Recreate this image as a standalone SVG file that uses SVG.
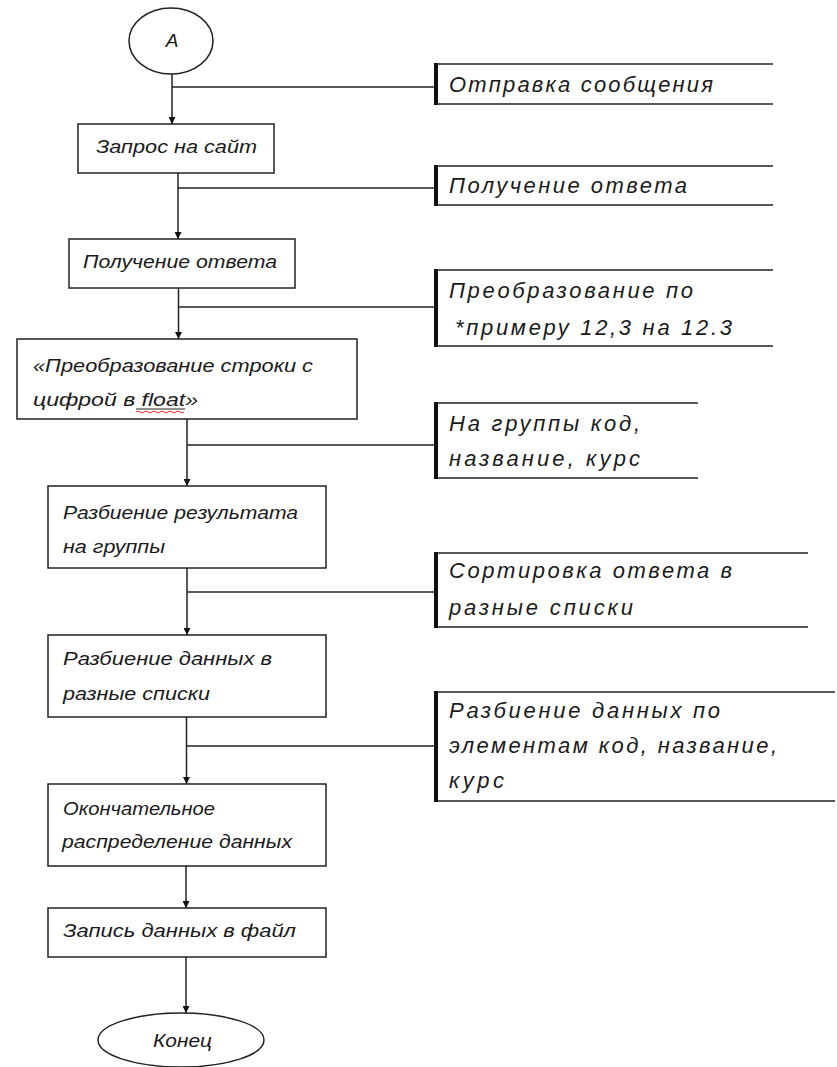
<svg xmlns="http://www.w3.org/2000/svg" width="837" height="1067" viewBox="0 0 837 1067">
<defs>
<style>
.shape{fill:#fff;stroke:#222;stroke-width:1.5}
.ln{fill:none;stroke:#222;stroke-width:1.5}
.bar{fill:none;stroke:#111;stroke-width:4}
.t{font-family:"Liberation Sans","DejaVu Sans",sans-serif;font-style:italic;fill:#1a1a1a;font-size:19px}
.a{font-family:"Liberation Sans","DejaVu Sans",sans-serif;font-style:italic;fill:#1a1a1a;font-size:22px}
</style>
<marker id="arr" viewBox="0 0 10 10" refX="10" refY="5" markerWidth="10" markerHeight="7" markerUnits="userSpaceOnUse" orient="auto">
<path d="M0,0 L10,5 L0,10 Z" fill="#111"/>
</marker>
</defs>
<rect width="837" height="1067" fill="#fff"/>

<g id="connectors">
<line class="ln" x1="172" y1="74" x2="172" y2="124" marker-end="url(#arr)"/>
<line class="ln" x1="172" y1="87" x2="436" y2="87"/>
<line class="ln" x1="178" y1="173" x2="178" y2="239" marker-end="url(#arr)"/>
<line class="ln" x1="178" y1="188" x2="436" y2="188"/>
<line class="ln" x1="178.5" y1="288" x2="178.5" y2="339" marker-end="url(#arr)"/>
<line class="ln" x1="178.5" y1="307" x2="436" y2="307"/>
<line class="ln" x1="187" y1="419" x2="187" y2="486" marker-end="url(#arr)"/>
<line class="ln" x1="187" y1="445" x2="436" y2="445"/>
<line class="ln" x1="187" y1="568" x2="187" y2="635" marker-end="url(#arr)"/>
<line class="ln" x1="187" y1="592" x2="436" y2="592"/>
<line class="ln" x1="186.5" y1="717" x2="186.5" y2="784" marker-end="url(#arr)"/>
<line class="ln" x1="186.5" y1="746" x2="436" y2="746"/>
<line class="ln" x1="186" y1="866" x2="186" y2="908" marker-end="url(#arr)"/>
<line class="ln" x1="186" y1="957" x2="186" y2="1013" marker-end="url(#arr)"/>
</g>

<g id="start">
<ellipse class="shape" cx="171" cy="41" rx="42" ry="33"/>
<text class="t" x="172" y="47" text-anchor="middle" font-size="21">А</text>
</g>

<g id="box1">
<rect class="shape" x="78" y="124" width="196" height="49"/>
<text class="t" x="96" y="153" textLength="161" lengthAdjust="spacingAndGlyphs">Запрос на сайт</text>
</g>

<g id="box2">
<rect class="shape" x="69" y="239" width="226" height="49"/>
<text class="t" x="83" y="268" textLength="194" lengthAdjust="spacingAndGlyphs">Получение ответа</text>
</g>

<g id="box3">
<rect class="shape" x="17" y="339" width="340" height="80"/>
<text class="t" x="33" y="372" textLength="280" lengthAdjust="spacingAndGlyphs">«Преобразование строки с</text>
<text class="t" x="33" y="406" textLength="165" lengthAdjust="spacingAndGlyphs">цифрой в float»</text>
<line x1="136" y1="409" x2="185" y2="409" stroke="#222" stroke-width="1"/>
<path d="M136,412 q2,-2 4,0 t4,0 t4,0 t4,0 t4,0 t4,0 t4,0 t4,0 t4,0 t4,0 t4,0 t4,0" fill="none" stroke="#d22" stroke-width="1"/>
</g>

<g id="box4">
<rect class="shape" x="48" y="486" width="278" height="82"/>
<text class="t" x="63" y="519" textLength="235" lengthAdjust="spacingAndGlyphs">Разбиение результата</text>
<text class="t" x="63" y="553" textLength="102" lengthAdjust="spacingAndGlyphs">на группы</text>
</g>

<g id="box5">
<rect class="shape" x="48" y="635" width="278" height="82"/>
<text class="t" x="63" y="665" textLength="209" lengthAdjust="spacingAndGlyphs">Разбиение данных в</text>
<text class="t" x="63" y="700" textLength="147" lengthAdjust="spacingAndGlyphs">разные списки</text>
</g>

<g id="box6">
<rect class="shape" x="48" y="784" width="278" height="82"/>
<text class="t" x="63" y="815" textLength="152" lengthAdjust="spacingAndGlyphs">Окончательное</text>
<text class="t" x="62" y="848" textLength="230" lengthAdjust="spacingAndGlyphs">распределение данных</text>
</g>

<g id="box7">
<rect class="shape" x="48" y="908" width="278" height="49"/>
<text class="t" x="63" y="937" textLength="233" lengthAdjust="spacingAndGlyphs">Запись данных в файл</text>
</g>

<g id="end">
<ellipse class="shape" cx="181" cy="1040" rx="83" ry="27"/>
<text class="t" x="153" y="1047" textLength="59" lengthAdjust="spacingAndGlyphs">Конец</text>
</g>

<g id="note1">
<path class="ln" d="M773,64 H436 V104 H773"/>
<line class="bar" x1="436" y1="63" x2="436" y2="105"/>
<text class="a" x="449" y="92" textLength="264" lengthAdjust="spacing">Отправка сообщения</text>
</g>

<g id="note2">
<path class="ln" d="M773,166 H436 V205 H773"/>
<line class="bar" x1="436" y1="165" x2="436" y2="206"/>
<text class="a" x="449" y="193" textLength="238" lengthAdjust="spacing">Получение ответа</text>
</g>

<g id="note3">
<path class="ln" d="M773,270 H436 V346 H773"/>
<line class="bar" x1="436" y1="269" x2="436" y2="347"/>
<text class="a" x="449" y="298" textLength="244" lengthAdjust="spacing">Преобразование по</text>
<text class="a" x="455" y="335" textLength="277" lengthAdjust="spacing">*примеру 12,3 на 12.3</text>
</g>

<g id="note4">
<path class="ln" d="M698,403 H436 V478 H698"/>
<line class="bar" x1="436" y1="402" x2="436" y2="479"/>
<text class="a" x="449" y="431" textLength="191" lengthAdjust="spacing">На группы код,</text>
<text class="a" x="449" y="466" textLength="191" lengthAdjust="spacing">название, курс</text>
</g>

<g id="note5">
<path class="ln" d="M808,553 H436 V627 H808"/>
<line class="bar" x1="436" y1="552" x2="436" y2="628"/>
<text class="a" x="449" y="578" textLength="283" lengthAdjust="spacing">Сортировка ответа в</text>
<text class="a" x="449" y="615" textLength="184" lengthAdjust="spacing">разные списки</text>
</g>

<g id="note6">
<path class="ln" d="M835,692 H436 V801 H835"/>
<line class="bar" x1="436" y1="691" x2="436" y2="802"/>
<text class="a" x="449" y="718" textLength="271" lengthAdjust="spacing">Разбиение данных по</text>
<text class="a" x="449" y="753" textLength="328" lengthAdjust="spacing">элементам код, название,</text>
<text class="a" x="449" y="788" textLength="55" lengthAdjust="spacing">курс</text>
</g>
</svg>
